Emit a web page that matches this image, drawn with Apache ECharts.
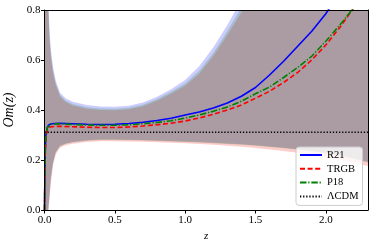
<!DOCTYPE html>
<html>
<head>
<meta charset="utf-8">
<script src="https://cdn.jsdelivr.net/npm/echarts@6/dist/echarts.min.js"></script>
<style>
html,body{margin:0;padding:0;background:#fff;}
#c{width:374px;height:249px;}
</style>
</head>
<body>
<div id="c"></div>
<script>
// ---- data ----
var zLine = [0, 0.003, 0.006, 0.01, 0.02, 0.03, 0.05, 0.1, 0.2, 0.3, 0.4, 0.5, 0.6, 0.7, 0.8, 0.9, 1.0, 1.1, 1.2, 1.3, 1.4, 1.5, 1.6, 1.7, 1.8, 1.9, 2.0, 2.1, 2.2, 2.3];
var r21  = [0, 0.15, 0.25, 0.30, 0.33, 0.340, 0.345, 0.347, 0.345, 0.343, 0.342, 0.343, 0.346, 0.351, 0.358, 0.367, 0.380, 0.392, 0.408, 0.428, 0.455, 0.490, 0.540, 0.595, 0.655, 0.715, 0.785, 0.87, 0.96, 1.06];
var trgb = [0, 0.14, 0.24, 0.29, 0.32, 0.330, 0.333, 0.335, 0.333, 0.331, 0.330, 0.330, 0.332, 0.336, 0.341, 0.347, 0.356, 0.368, 0.383, 0.400, 0.420, 0.447, 0.475, 0.510, 0.550, 0.600, 0.660, 0.730, 0.810, 0.90];
var p18  = [0, 0.15, 0.25, 0.30, 0.33, 0.338, 0.343, 0.345, 0.342, 0.340, 0.339, 0.339, 0.341, 0.345, 0.350, 0.357, 0.368, 0.380, 0.395, 0.412, 0.435, 0.465, 0.492, 0.530, 0.570, 0.615, 0.675, 0.740, 0.810, 0.89];
var lcdm = [0.311, 0.311];
var zLcdm = [0, 2.3];

var zBand = [0, 0.01, 0.02, 0.027, 0.035, 0.045, 0.06, 0.08, 0.11, 0.15, 0.2, 0.3, 0.4, 0.5, 0.6, 0.7, 0.8, 0.9, 1.0, 1.1, 1.2, 1.3, 1.4, 1.5, 1.6, 1.7, 1.8, 1.9, 2.0, 2.1, 2.2, 2.3];
var r21Up  = [6, 2.2, 1.1, 0.86, 0.73, 0.645, 0.575, 0.517, 0.470, 0.447, 0.433, 0.420, 0.414, 0.413, 0.417, 0.430, 0.453, 0.483, 0.520, 0.575, 0.650, 0.740, 0.84, 0.95, 1.06, 1.17, 1.28, 1.39, 1.5, 1.6, 1.7, 1.8];
var r21Lo  = [0, 0, 0, 0, 0.06, 0.13, 0.19, 0.232, 0.257, 0.266, 0.272, 0.279, 0.282, 0.282, 0.281, 0.280, 0.278, 0.276, 0.274, 0.272, 0.269, 0.266, 0.263, 0.259, 0.254, 0.249, 0.243, 0.236, 0.228, 0.218, 0.206, 0.192];
var trgbUp = [6, 2.0, 1.0, 0.80, 0.68, 0.610, 0.550, 0.500, 0.455, 0.432, 0.418, 0.405, 0.400, 0.399, 0.403, 0.415, 0.437, 0.465, 0.497, 0.545, 0.615, 0.700, 0.79, 0.90, 1.00, 1.10, 1.20, 1.30, 1.4, 1.5, 1.6, 1.7];
var trgbLo = [0, 0, 0, 0, 0.035, 0.105, 0.175, 0.222, 0.249, 0.259, 0.265, 0.272, 0.275, 0.275, 0.274, 0.273, 0.271, 0.269, 0.267, 0.264, 0.261, 0.257, 0.253, 0.248, 0.242, 0.236, 0.229, 0.221, 0.212, 0.201, 0.189, 0.176];
var p18Up  = [6, 2.1, 1.05, 0.83, 0.70, 0.625, 0.560, 0.507, 0.461, 0.438, 0.424, 0.411, 0.406, 0.405, 0.409, 0.421, 0.444, 0.473, 0.506, 0.556, 0.628, 0.715, 0.81, 0.92, 1.02, 1.12, 1.22, 1.32, 1.42, 1.52, 1.62, 1.72];
var p18Lo  = [0, 0, 0, 0, 0.055, 0.125, 0.186, 0.229, 0.254, 0.264, 0.270, 0.277, 0.280, 0.280, 0.279, 0.278, 0.276, 0.274, 0.272, 0.270, 0.267, 0.264, 0.261, 0.257, 0.252, 0.247, 0.241, 0.234, 0.226, 0.216, 0.204, 0.190];

var xTicks = [0, 0.5, 1.0, 1.5, 2.0];
var yTicks = [0, 0.2, 0.4, 0.6, 0.8];
var names = ['R21', 'TRGB', 'P18', '\u039bCDM'];
var colors = ['#0000ff', '#ff0000', '#008000', '#000000'];

function pairs(xs, ys) { return xs.map(function (x, i) { return [x, ys[i]]; }); }

var FONT = 'Liberation Serif';

function band(lo, up, color) {
  return {
    type: 'custom', silent: true, z: 1,
    data: [[zBand[0], lo[0]]],
    encode: { x: 0, y: 1 },
    renderItem: function (params, api) {
      var pts = [], i;
      for (i = 0; i < zBand.length; i++) pts.push(api.coord([zBand[i], up[i]]));
      for (i = zBand.length - 1; i >= 0; i--) pts.push(api.coord([zBand[i], lo[i]]));
      var cs = params.coordSys;
      return {
        type: 'polygon',
        shape: { points: pts, smooth: 0 },
        style: { fill: color, opacity: 0.2 },
        clipPath: { type: 'rect', shape: { x: cs.x, y: cs.y, width: cs.width, height: cs.height } }
      };
    }
  };
}

var series = [
  band(r21Lo, r21Up, colors[0]),
  band(trgbLo, trgbUp, colors[1]),
  band(p18Lo, p18Up, colors[2]),
  { type: 'line', name: names[0], data: pairs(zLine, r21), symbol: 'none', showSymbol: false, z: 3,
    lineStyle: { color: colors[0], width: 1.6 }, itemStyle: { color: colors[0] } },
  { type: 'line', name: names[1], data: pairs(zLine, trgb), symbol: 'none', showSymbol: false, z: 3,
    lineStyle: { color: colors[1], width: 1.6, type: [5, 2.6] }, itemStyle: { color: colors[1] } },
  { type: 'line', name: names[2], data: pairs(zLine, p18), symbol: 'none', showSymbol: false, z: 3,
    lineStyle: { color: colors[2], width: 1.6, type: [6.5, 1.8, 1.2, 1.8] }, itemStyle: { color: colors[2] } },
  { type: 'line', name: names[3], data: pairs(zLcdm, lcdm), symbol: 'none', showSymbol: false, z: 3,
    lineStyle: { color: colors[3], width: 1.4, type: [1.3, 1.8] }, itemStyle: { color: colors[3] } }
];

var chart = echarts.init(document.getElementById('c'), null, { renderer: 'canvas' });
chart.setOption({
  animation: false,
  backgroundColor: '#fff',
  grid: { left: 44.5, right: 6, top: 10, bottom: 39, containLabel: false, outerBoundsMode: 'none' },
  legend: {
    data: names.map(function (n) { return { name: n }; }), orient: 'vertical', left: 296, top: 147,
    padding: [2, 4, 3, 3], itemGap: 1.8, itemWidth: 22, itemHeight: 8,
    itemStyle: { opacity: 0 },
    backgroundColor: 'rgba(255,255,255,0.8)', borderColor: '#cccccc', borderWidth: 1, borderRadius: 3,
    textStyle: { fontFamily: FONT, fontSize: 10.5, color: '#000', lineHeight: 12 },
    selectedMode: false
  },
  xAxis: [
    { type: 'value', min: 0, max: 2.3, z: 10,
      name: 'z', nameLocation: 'middle', nameGap: 19,
      nameTextStyle: { fontFamily: FONT, fontStyle: 'italic', fontSize: 11, color: '#000' },
      axisLine: { show: true, onZero: false, lineStyle: { color: '#000', width: 1 } },
      axisTick: { show: true, length: 3.5, customValues: xTicks, lineStyle: { color: '#000' } },
      axisLabel: { customValues: xTicks, margin: 5, fontFamily: FONT, fontSize: 11, color: '#000',
        formatter: function (v) { return v.toFixed(1); } },
      splitLine: { show: false } },
    { type: 'value', min: 0, max: 2.3, position: 'top', z: 10,
      axisLine: { show: true, onZero: false, lineStyle: { color: '#000', width: 1 } },
      axisTick: { show: false }, axisLabel: { show: false }, splitLine: { show: false } }
  ],
  yAxis: [
    { type: 'value', min: 0, max: 0.8, interval: 0.2, z: 10,
      name: 'Om(z)', nameLocation: 'middle', nameGap: 27,
      nameTextStyle: { fontFamily: FONT, fontStyle: 'italic', fontSize: 14, color: '#000' },
      axisLine: { show: true, onZero: false, lineStyle: { color: '#000', width: 1 } },
      axisTick: { show: true, length: 3.5, customValues: yTicks, lineStyle: { color: '#000' } },
      axisLabel: { customValues: yTicks, margin: 4, fontFamily: FONT, fontSize: 11, color: '#000',
        formatter: function (v) { return v.toFixed(1); } },
      splitLine: { show: false } },
    { type: 'value', min: 0, max: 0.8, position: 'right', z: 10,
      axisLine: { show: true, onZero: false, lineStyle: { color: '#000', width: 1 } },
      axisTick: { show: false }, axisLabel: { show: false }, splitLine: { show: false } }
  ],
  series: series
});
</script>
</body>
</html>
